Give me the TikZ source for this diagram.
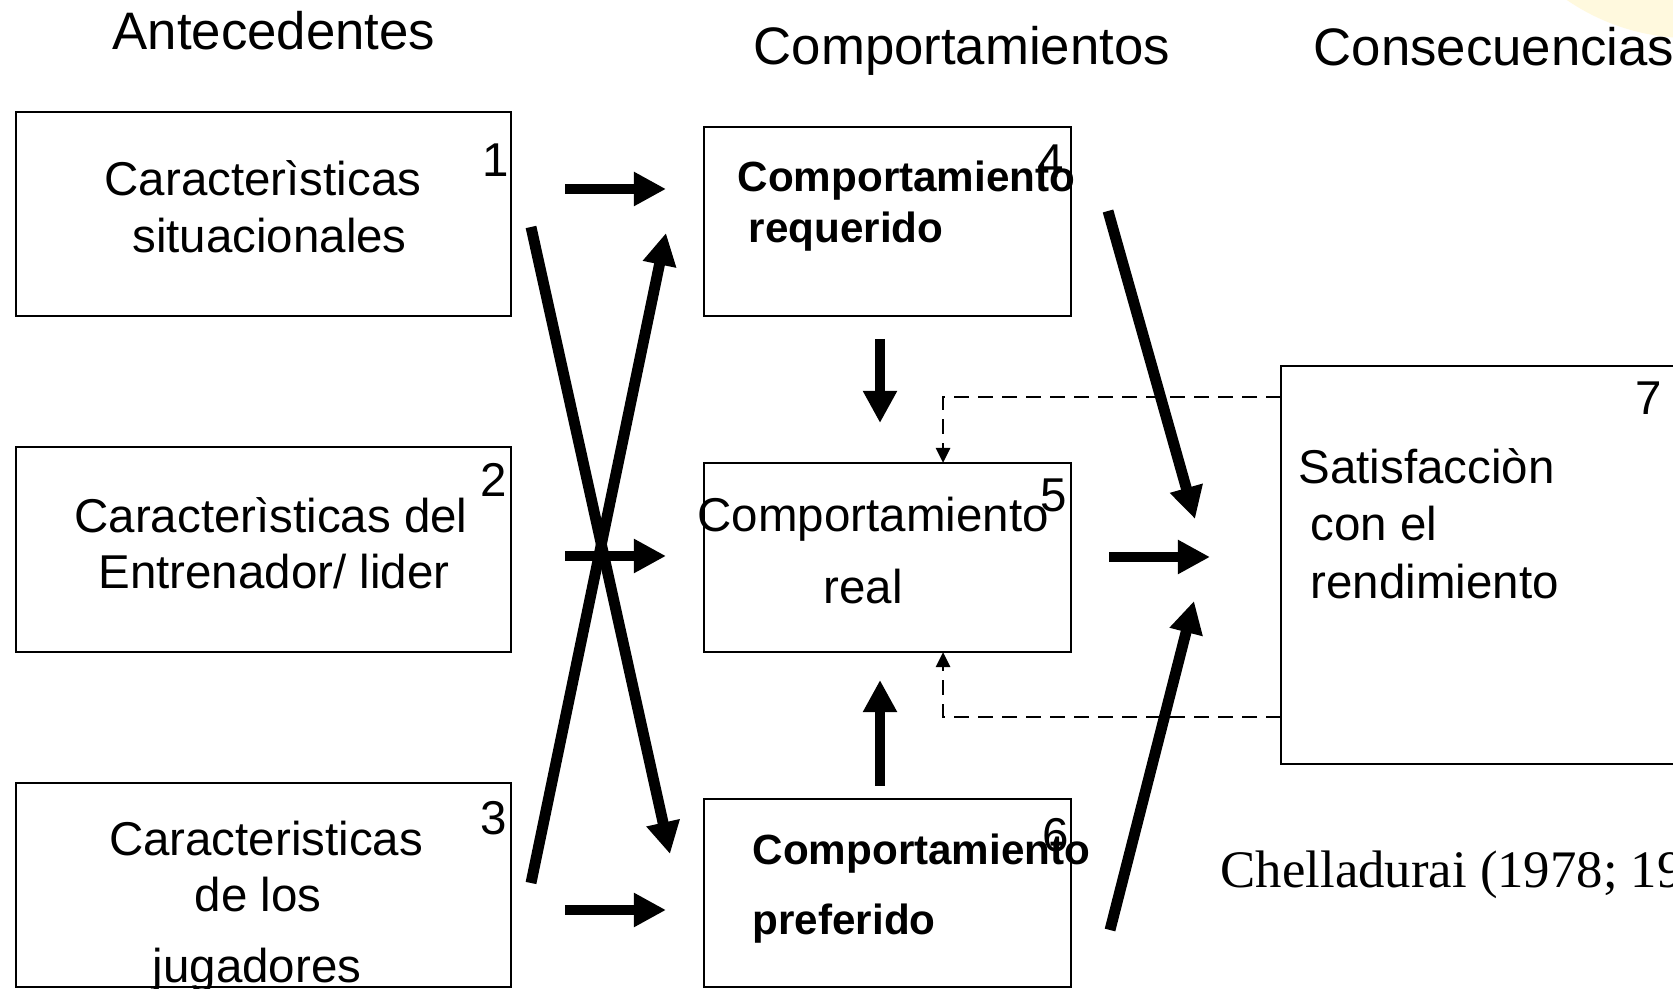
\documentclass[tikz,border=0pt]{standalone}
\usepackage{fontspec}
\setmainfont{Liberation Sans}
\newfontfamily\timesfont{Liberation Serif}
\usetikzlibrary{arrows.meta}
\definecolor{paleyellow}{RGB}{255,249,222}

\begin{document}
\begin{tikzpicture}[x=0.01cm,y=-0.01cm]
\tikzstyle{box_style} = [draw=black, line width=0.7pt, rectangle, inner sep=0pt, outer sep=0pt]
\tikzstyle{text_style} = [inner sep=0pt, anchor=base, font=\fontsize{13.5}{16}\selectfont]
\tikzstyle{left_style} = [inner sep=0pt, anchor=base west, font=\fontsize{13.5}{16}\selectfont]
\tikzstyle{bold_style} = [inner sep=0pt, anchor=base west, font=\fontsize{12}{14}\selectfont\bfseries]
\tikzstyle{head_style} = [inner sep=0pt, font=\fontsize{15}{18}\selectfont]
\tikzstyle{arrow_style} = [black, line width=3.1pt, -{Triangle[length=0.32cm,width=0.32cm]}]
\tikzstyle{dash_style} = [black, line width=0.8pt, dash pattern=on 0.15cm off 0.09cm, -{Triangle[length=0.15cm,width=0.14cm]}]
    \useasboundingbox (0,0) rectangle (1673,989);
    \clip (0,0) rectangle (1673,989);
    \fill[white] (0,0) rectangle (1673,989);
    \fill[paleyellow] (1690,-180) circle (2.18cm);

    % headings
    \node[head_style, anchor=base] (h1) at (274,50) {Antecedentes};
    \node[head_style, anchor=base west] (h2) at (753,65) {Comportamientos};
    \node[head_style, anchor=base west] (h3) at (1313,66) {Consecuencias};

    % boxes
    \node[box_style, minimum width=4.95cm, minimum height=2.04cm] (b1) at (263.5,214) {};
    \node[box_style, minimum width=4.95cm, minimum height=2.05cm] (b2) at (263.5,549.5) {};
    \node[box_style, minimum width=4.95cm, minimum height=2.04cm] (b3) at (263.5,885) {};
    \node[box_style, minimum width=3.67cm, minimum height=1.89cm] (b4) at (887.5,221.5) {};
    \node[box_style, minimum width=3.67cm, minimum height=1.89cm] (b5) at (887.5,557.5) {};
    \node[box_style, minimum width=3.67cm, minimum height=1.88cm] (b6) at (887.5,893) {};
    \node[box_style, minimum width=4.2cm, minimum height=3.98cm] (b7) at (1491,565) {};

    % box texts
    \node[text_style] (t11) at (263,196) {Caracterìsticas};
    \node[text_style] (t12) at (269.5,253) {situacionales};
    \node[text_style] (t21) at (271,533) {Caracterìsticas del};
    \node[text_style] (t22) at (274,589) {Entrenador/ lider};
    \node[text_style] (t31) at (266,856) {Caracteristicas};
    \node[text_style] (t32) at (258,912) {de los};
    \node[text_style] (t33) at (257,982) {jugadores};
    \node[bold_style] (t41) at (737,192) {Comportamiento};
    \node[bold_style] (t42) at (748,243) {requerido};
    \node[left_style] (t51) at (697,532) {Comportamiento};
    \node[text_style] (t52) at (863,604) {real};
    \node[bold_style] (t61) at (752,864) {Comportamiento};
    \node[bold_style] (t62) at (752,934) {preferido};
    \node[left_style] (t71) at (1298,484) {Satisfacciòn};
    \node[left_style] (t72) at (1310,541) {con el};
    \node[left_style] (t73) at (1310,599) {rendimiento};

    % numbers
    \node[left_style] (n1) at (482,177) {1};
    \node[left_style] (n2) at (480,497) {2};
    \node[left_style] (n3) at (480,834) {3};
    \node[left_style] (n4) at (1037,178) {4};
    \node[left_style] (n5) at (1040,512) {5};
    \node[left_style] (n6) at (1042,851) {6};
    \node[left_style] (n7) at (1635,415) {7};

    \node[inner sep=0pt, anchor=base west, font=\timesfont\fontsize{15}{18}\selectfont] (ref) at (1220,887) {Chelladurai (1978; 1990)};

    % arrow ends
    \coordinate (s14) at (565,189);  \coordinate (e14) at (666,189);
    \coordinate (s25) at (565,556);  \coordinate (e25) at (666,556);
    \coordinate (s36) at (565,910);  \coordinate (e36) at (666,910);
    \coordinate (s16) at (531,227);  \coordinate (e16) at (670,854);
    \coordinate (s34) at (531,883);  \coordinate (e34) at (666,233);
    \coordinate (s45) at (880,339);  \coordinate (e45) at (880,423);
    \coordinate (s65) at (880,786);  \coordinate (e65) at (880,680);
    \coordinate (s47) at (1108,211); \coordinate (e47) at (1195,519);
    \coordinate (s57) at (1109,557); \coordinate (e57) at (1210,557);
    \coordinate (s67) at (1110,930); \coordinate (e67) at (1194,601);

    \draw[arrow_style] (s14) -- (e14);
    \draw[arrow_style] (s25) -- (e25);
    \draw[arrow_style] (s36) -- (e36);
    \draw[arrow_style] (s16) -- (e16);
    \draw[arrow_style] (s34) -- (e34);
    \draw[arrow_style] (s45) -- (e45);
    \draw[arrow_style] (s65) -- (e65);
    \draw[arrow_style] (s47) -- (e47);
    \draw[arrow_style] (s57) -- (e57);
    \draw[arrow_style] (s67) -- (e67);

    % feedback
    \coordinate (f1) at (1281,397);
    \coordinate (f2) at (1281,717);
    \draw[dash_style] (f1) -| (b5.north -| 943,0);
    \draw[dash_style] (f2) -| (b5.south -| 943,0);
\end{tikzpicture}
\end{document}
